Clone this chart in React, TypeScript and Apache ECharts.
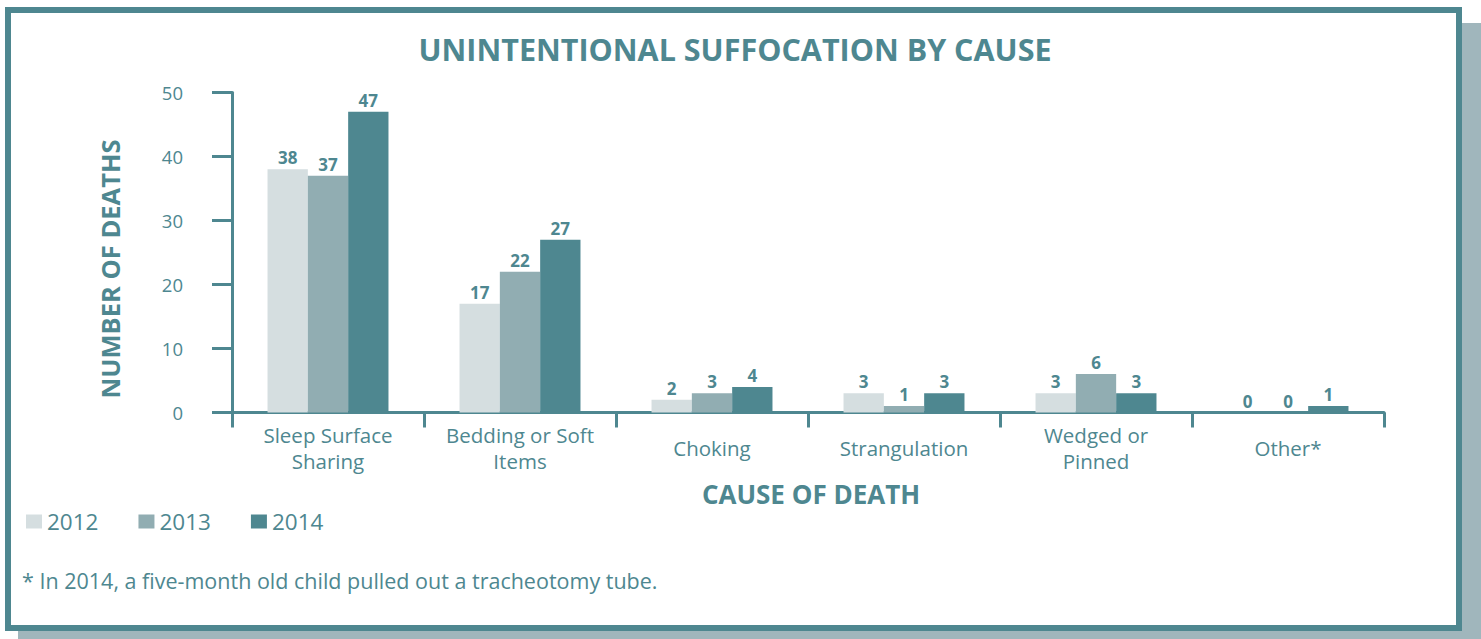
import React, { useEffect, useRef } from "react";
import * as echarts from "echarts";

const TEAL = "#4e8790";
const FONT = "'Open Sans', 'Noto Sans', sans-serif";

const categories = [
  "Sleep Surface\nSharing",
  "Bedding or Soft\nItems",
  "Choking",
  "Strangulation",
  "Wedged or\nPinned",
  "Other*",
];
const years = ["2012", "2013", "2014"];
const values2012 = [38, 17, 2, 3, 3, 0];
const values2013 = [37, 22, 3, 1, 6, 0];
const values2014 = [47, 27, 4, 3, 3, 1];
const yearColors = ["#d5dee0", "#91adb2", "#4e8790"];
const yTicks = { min: 0, max: 50, interval: 10 };

export default function App() {
  const ref = useRef<HTMLDivElement>(null);

  useEffect(() => {
    if (!ref.current) return;
    const chart = echarts.init(ref.current, null, { renderer: "svg" });
    const seriesData = [values2012, values2013, values2014];
    chart.setOption({
      animation: false,
      backgroundColor: "transparent",
      textStyle: { fontFamily: FONT },
      title: {
        text: "UNINTENTIONAL SUFFOCATION BY CAUSE",
        left: 735,
        textAlign: "center",
        top: 33,
        padding: 0,
        textStyle: {
          fontFamily: FONT,
          fontSize: 30.5,
          fontWeight: "bold",
          color: TEAL,
        },
      },
      legend: {
        data: years,
        left: 26,
        top: 510,
        padding: 0,
        icon: "rect",
        itemWidth: 16,
        itemHeight: 14,
        itemGap: 40,
        selectedMode: false,
        textStyle: { fontFamily: FONT, fontSize: 22.5, color: TEAL, padding: [0, 0, 0, 0] },
      },
      grid: {
        left: 232,
        right: 97,
        top: 92.5,
        bottom: 226.5,
        containLabel: false,
      },
      xAxis: {
        type: "category",
        data: categories,
        name: "CAUSE OF DEATH",
        nameLocation: "middle",
        nameGap: 68,
        nameTextStyle: {
          fontFamily: FONT,
          fontSize: 26,
          fontWeight: "bold",
          color: TEAL,
          padding: [0, 0, 0, 6],
        },
        axisLine: { show: true, lineStyle: { color: TEAL, width: 3 } },
        axisTick: {
          show: true,
          length: 15,
          interval: 0,
          alignWithLabel: false,
          lineStyle: { color: TEAL, width: 3 },
        },
        axisLabel: {
          interval: 0,
          fontFamily: FONT,
          fontSize: 20.5,
          lineHeight: 26,
          color: TEAL,
          verticalAlign: "middle",
          margin: 35,
        },
        splitLine: { show: false },
      },
      yAxis: {
        type: "value",
        min: yTicks.min,
        max: yTicks.max,
        interval: yTicks.interval,
        axisLine: { show: true, lineStyle: { color: TEAL, width: 3 } },
        axisTick: { show: true, length: 20, inside: false, lineStyle: { color: TEAL, width: 3 } },
        axisLabel: {
          fontFamily: FONT,
          fontSize: 18.5,
          color: TEAL,
          margin: 49,
        },
        splitLine: { show: false },
      },
      graphic: [
        {
          type: "text",
          x: 110,
          y: 269,
          rotation: Math.PI / 2,
          style: {
            text: "NUMBER OF DEATHS",
            font: `bold 25.5px ${FONT}`,
            fill: TEAL,
            align: "center",
            verticalAlign: "middle",
          },
        },
        {
          type: "text",
          x: 22,
          y: 580,
          style: {
            text: "* In 2014, a five-month old child pulled out a tracheotomy tube.",
            font: `21.5px ${FONT}`,
            fill: TEAL,
            align: "left",
            verticalAlign: "middle",
          },
        },
      ],
      series: years.map((y, i) => ({
        name: y,
        type: "bar",
        data: seriesData[i],
        barGap: "0%",
        barCategoryGap: "37%",
        itemStyle: { color: yearColors[i] },
        label: {
          show: true,
          position: "top",
          distance: 3,
          fontFamily: FONT,
          fontSize: 17,
          fontWeight: "bold",
          color: TEAL,
        },
      })),
    });
    return () => chart.dispose();
  }, []);

  return (
    <div
      style={{
        position: "fixed",
        left: 0,
        top: 0,
        width: 1481,
        height: 639,
        background: "#ffffff",
        overflow: "hidden",
      }}
    >
      <div
        style={{
          position: "absolute",
          left: 18,
          top: 23,
          width: 1463,
          height: 616,
          background: "#a0b6bc",
        }}
      />
      <div
        style={{
          position: "absolute",
          left: 5,
          top: 7,
          width: 1457,
          height: 624,
          boxSizing: "border-box",
          border: `6px solid ${TEAL}`,
          background: "#ffffff",
        }}
      />
      <div
        ref={ref}
        style={{ position: "absolute", left: 0, top: 0, width: 1481, height: 639 }}
      />
    </div>
  );
}
